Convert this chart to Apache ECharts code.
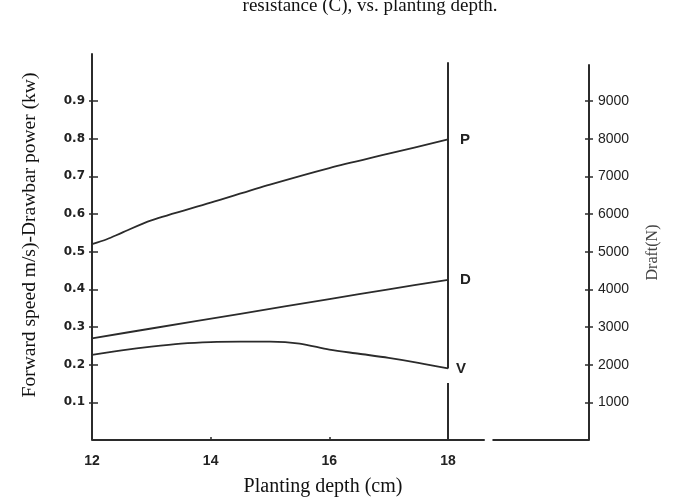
<!DOCTYPE html>
<html>
<head>
<meta charset="utf-8">
<script src="https://cdn.jsdelivr.net/npm/echarts@6/dist/echarts.min.js"></script>
<style>
  html, body { margin: 0; padding: 0; background: #fff; }
  #chart { width: 673px; height: 497px; }
</style>
</head>
<body>
<div id="chart"></div>
<script>
// Drawbar power P (kW), left axis
const depthP = [12, 12.25, 12.5, 13, 14, 15, 16, 17, 18]
const powerP = [0.520, 0.533, 0.550, 0.583, 0.630, 0.678, 0.722, 0.760, 0.798]
// Draft D (N), right axis
const depthD = [12, 13, 14.5, 16, 17, 18]
const draftD = [2700, 2960, 3350, 3740, 4000, 4250]
// Forward speed V (m/s), left axis
const depthV = [12, 12.5, 13, 13.5, 14, 14.5, 15, 15.5, 16, 16.5, 17, 17.5, 18]
const speedV = [0.226, 0.238, 0.248, 0.256, 0.260, 0.261, 0.261, 0.256, 0.240, 0.229, 0.218, 0.205, 0.190]

const xLabels = [12, 14, 16, 18]
const xTicks = [14, 16]
const leftTicks = [0.1, 0.2, 0.3, 0.4, 0.5, 0.6, 0.7, 0.8, 0.9]
const rightTicks = [1000, 2000, 3000, 4000, 5000, 6000, 7000, 8000, 9000]

// the drawn x=18 line (broken under V) and the broken baseline
const depthLine = [[0, 0.151], [0.19, 1.003]]
const baseLine = [[12, 18.62], [18.75, 20.377]]

const X_MAX = 20.377
const LEFT_MAX = 1.0247
const RIGHT_MAX = 9955
const INK = '#2b2b2b'
const SERIF = '"Liberation Serif", "DejaVu Serif", serif'
const SANS = '"Liberation Sans", "DejaVu Sans", sans-serif'

const pairs = (xs, ys) => xs.map((x, i) => [x, ys[i]])

const chart = echarts.init(document.getElementById('chart'), null, { renderer: 'canvas' })

const hiddenX = (grid) => ({ gridIndex: grid, type: 'value', min: 12, max: X_MAX, show: false })

const lineSeries = (name, data, xi, yi, dist) => ({
  name,
  type: 'line',
  xAxisIndex: xi,
  yAxisIndex: yi,
  smooth: 0.3,
  symbol: 'none',
  silent: true,
  lineStyle: { color: INK, width: 1.8 },
  endLabel: {
    show: true,
    formatter: '{a}',
    distance: dist,
    color: '#222',
    fontFamily: SANS,
    fontWeight: 'bold',
    fontSize: 15
  },
  data
})

const option = {
  animation: false,
  backgroundColor: '#fff',
  title: {
    text: 'resistance (C), vs. planting depth.',
    left: 370,
    top: -3,
    textAlign: 'center',
    padding: 0,
    textStyle: { fontFamily: SERIF, fontWeight: 'normal', fontSize: 19, color: '#111' }
  },
  graphic: [{
    type: 'text',
    style: {
      x: 323,
      y: 497,
      text: 'Planting depth (cm)',
      textAlign: 'center',
      textVerticalAlign: 'bottom',
      font: '20px ' + SERIF,
      fill: '#111'
    }
  }],
  grid: [
    { left: 92, right: 84, top: 54, bottom: 57 },
    { left: 92, right: 84, top: 54, bottom: 57 },
    { left: 92, right: 84, top: 65, bottom: 57 }
  ],
  xAxis: [
    {
      gridIndex: 0,
      type: 'value',
      min: 12,
      max: X_MAX,
      axisLine: { show: false },
      axisTick: { show: true, inside: true, length: 3, customValues: xTicks, lineStyle: { color: INK, width: 1.5 } },
      axisLabel: {
        customValues: xLabels,
        margin: 14,
        color: '#222',
        fontFamily: SANS,
        fontWeight: 'bold',
        fontSize: 14
      },
      splitLine: { show: false }
    },
    hiddenX(1),
    hiddenX(2)
  ],
  yAxis: [
    {
      gridIndex: 0,
      type: 'value',
      position: 'left',
      min: 0,
      max: LEFT_MAX,
      name: 'Forward speed m/s)-Drawbar power (kw)',
      nameLocation: 'middle',
      nameRotate: 90,
      nameGap: 52,
      nameTextStyle: { fontFamily: SERIF, fontSize: 19.5, color: '#111', padding: [0, 0, 0, 24] },
      axisLine: { show: true, lineStyle: { color: INK, width: 2 } },
      axisTick: { show: true, length: 3, customValues: leftTicks, lineStyle: { color: INK, width: 1.5 } },
      axisLabel: {
        customValues: leftTicks,
        formatter: (v) => v.toFixed(1),
        margin: 7,
        color: '#222',
        fontFamily: '"DejaVu Sans", sans-serif',
        fontWeight: 'bold',
        fontSize: 12
      },
      splitLine: { show: false }
    },
    // inner halves of the crossing ticks
    {
      gridIndex: 1,
      type: 'value',
      position: 'left',
      min: 0,
      max: LEFT_MAX,
      axisLine: { show: false },
      axisTick: { show: true, inside: true, length: 6, customValues: leftTicks, lineStyle: { color: INK, width: 1.5 } },
      axisLabel: { show: false },
      splitLine: { show: false }
    },
    {
      gridIndex: 1,
      type: 'value',
      position: 'right',
      min: 0,
      max: LEFT_MAX * 10000,
      axisLine: { show: false },
      axisTick: { show: true, inside: true, length: 4, customValues: rightTicks, lineStyle: { color: INK, width: 1.5 } },
      axisLabel: { show: false },
      splitLine: { show: false }
    },
    {
      gridIndex: 2,
      type: 'value',
      position: 'right',
      min: 0,
      max: RIGHT_MAX,
      name: 'Draft(N)',
      nameLocation: 'middle',
      nameRotate: 90,
      nameGap: 56,
      nameTextStyle: { fontFamily: SERIF, fontSize: 16, color: '#444' },
      axisLine: { show: true, lineStyle: { color: INK, width: 2 } },
      axisTick: { show: true, length: 4, customValues: rightTicks, lineStyle: { color: INK, width: 1.5 } },
      axisLabel: {
        customValues: rightTicks,
        formatter: (v) => String(v),
        margin: 9,
        color: '#222',
        fontFamily: SANS,
        fontSize: 14
      },
      splitLine: { show: false }
    }
  ],
  series: [
    Object.assign(lineSeries('P', pairs(depthP, powerP), 0, 0, 12), {
      markLine: {
        silent: true,
        symbol: ['none', 'none'],
        label: { show: false },
        lineStyle: { color: INK, width: 2, type: 'solid' },
        data: depthLine.map(([a, b]) => [{ coord: [18, a] }, { coord: [18, b] }])
          .concat(baseLine.map(([a, b]) => [{ coord: [a, 0] }, { coord: [b, 0] }]))
      }
    }),
    lineSeries('D', pairs(depthD, draftD), 2, 3, 12),
    lineSeries('V', pairs(depthV, speedV), 0, 0, 8)
  ]
}

chart.setOption(option)
</script>
</body>
</html>
